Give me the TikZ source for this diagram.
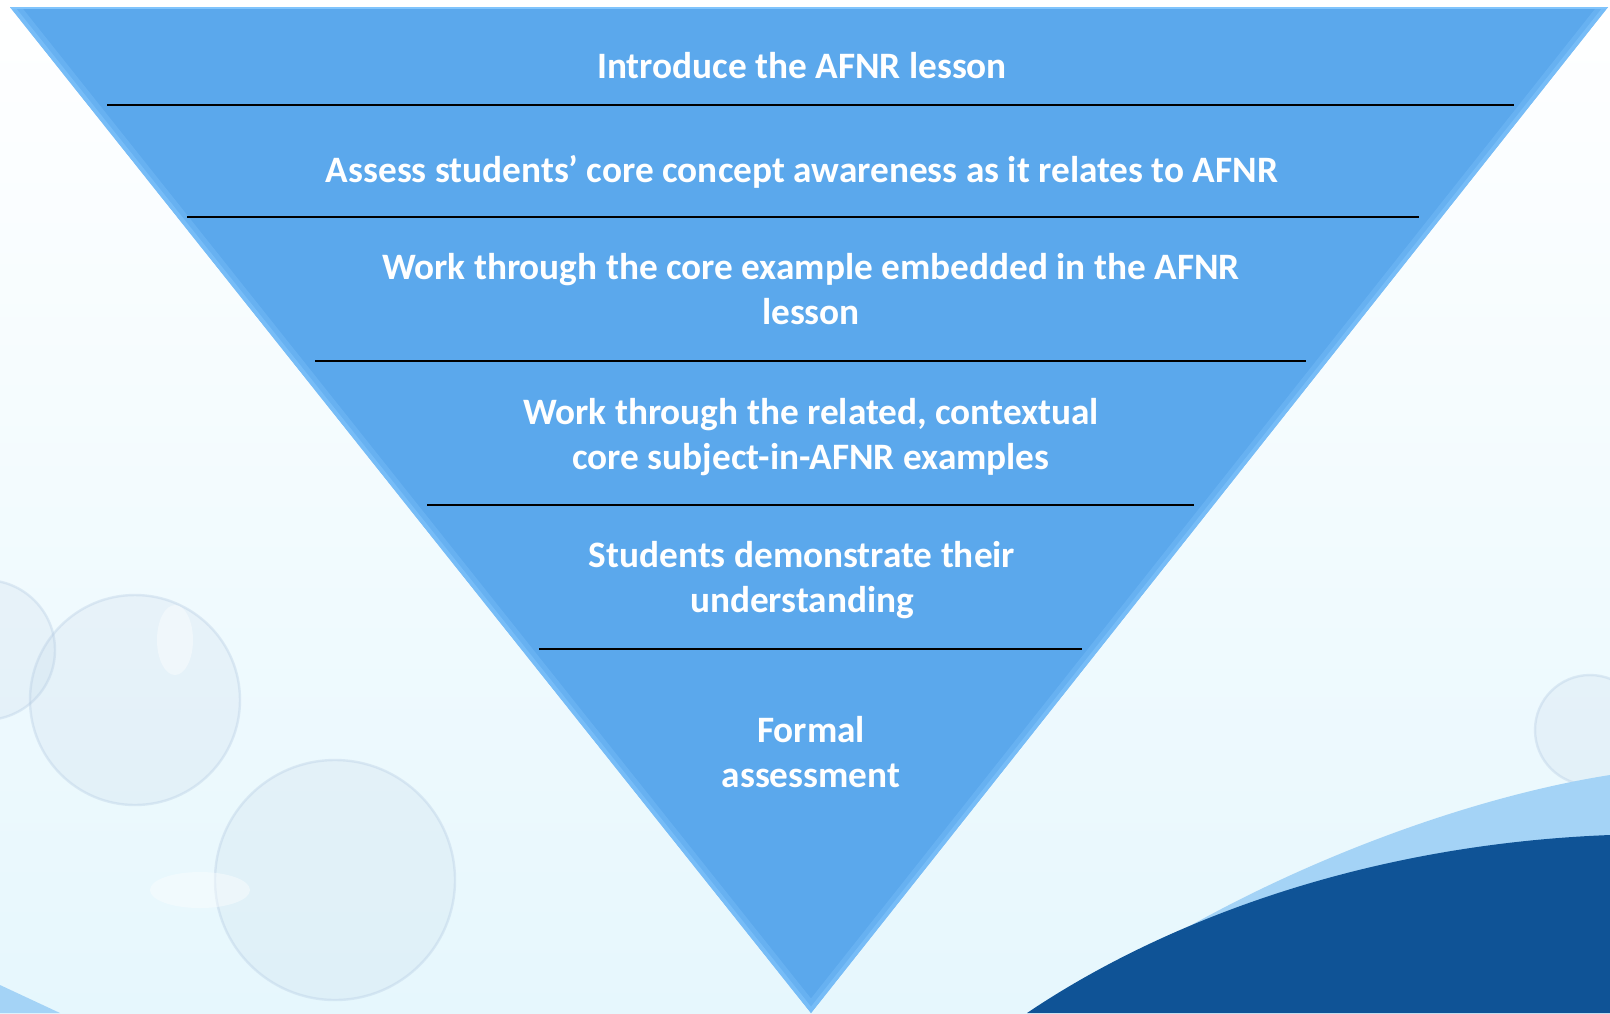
\documentclass[tikz,border=0pt]{standalone}
\usepackage{fontspec}
\setmainfont{Carlito}
\usepackage{xcolor}
\definecolor{funnel}{HTML}{5BA8EC}
\definecolor{funnelhi}{HTML}{80C4FC}
\definecolor{wavedark}{HTML}{0F5396}
\definecolor{wavelight}{HTML}{A4D3F6}
\definecolor{bubble}{HTML}{B4CAE2}
\definecolor{bgbot}{HTML}{E6F7FD}

\begin{document}
\begin{tikzpicture}[x=0.5pt,y=-0.5pt,
    stage/.style={text=white,font=\fontsize{18.65}{22.5}\selectfont\bfseries,align=center,inner sep=0pt},
    sep/.style={line width=1.1pt,black}]
    \useasboundingbox (0,0) rectangle (1610,1013);
    % background
    \shade[top color=white,bottom color=bgbot] (0,0) rectangle (1610,1013);
    \foreach \x/\y/\r in {335/880/120,135/700/105,-15/650/70,1590/730/55}{
    \fill[bubble,opacity=0.15] (\x,\y) circle (\r);
    \draw[bubble,opacity=0.35,line width=1.2pt] (\x,\y) circle (\r);
    }
    \fill[white,opacity=0.4] (175,640) ellipse (18 and 35) (200,890) ellipse (50 and 18);
    \fill[wavelight] (0,985) -- (60,1013) -- (0,1013) -- cycle;
    % wave
    \fill[wavelight] (1110,975) .. controls (1250,880) and (1450,800) .. (1610,775) -- (1610,1013) -- (1110,1013) -- cycle;
    \fill[wavedark] (1027,1013) .. controls (1150,930) and (1350,845) .. (1610,835) -- (1610,1013) -- cycle;
    % funnel
    \coordinate (tl) at (10,7);
    \coordinate (tr) at (1608,7);
    \coordinate (tip) at (811,1013);
    \fill[funnel] (tl) -- (tr) -- (tip) -- cycle;
    \begin{scope}
    \clip (tl) -- (tr) -- (tip) -- cycle;
    \draw[funnelhi,line width=9pt,opacity=0.35] (tr) -- (tip) -- (tl);
    \draw[funnelhi,line width=4pt,opacity=0.6] (tr) -- (tip) -- (tl);
    \draw[funnelhi,line width=2pt] (tl) -- (tr);
    \end{scope}
    \foreach \y/\l/\r in {105/107/1514,217/187/1419,361/315/1306,505/427/1194,649/539/1082}{
    \draw[sep] (\l,\y) -- (\r,\y);
    }
    % stages
    \node[stage] (s1) at (802,66) {Introduce the AFNR lesson};
    \node[stage] (s2) at (802,172) {Assess students’ core concept awareness as it relates to AFNR};
    \node[stage] (s3) at (811,289) {Work through the core example embedded in the AFNR\\lesson};
    \node[stage] (s4) at (811,437) {Work through the related, contextual\\core subject-in-AFNR examples};
    \node[stage] (s5) at (802,580) {Students demonstrate their\\understanding};
    \node[stage] (s6) at (811,752) {Formal\\assessment};
\end{tikzpicture}
\end{document}
